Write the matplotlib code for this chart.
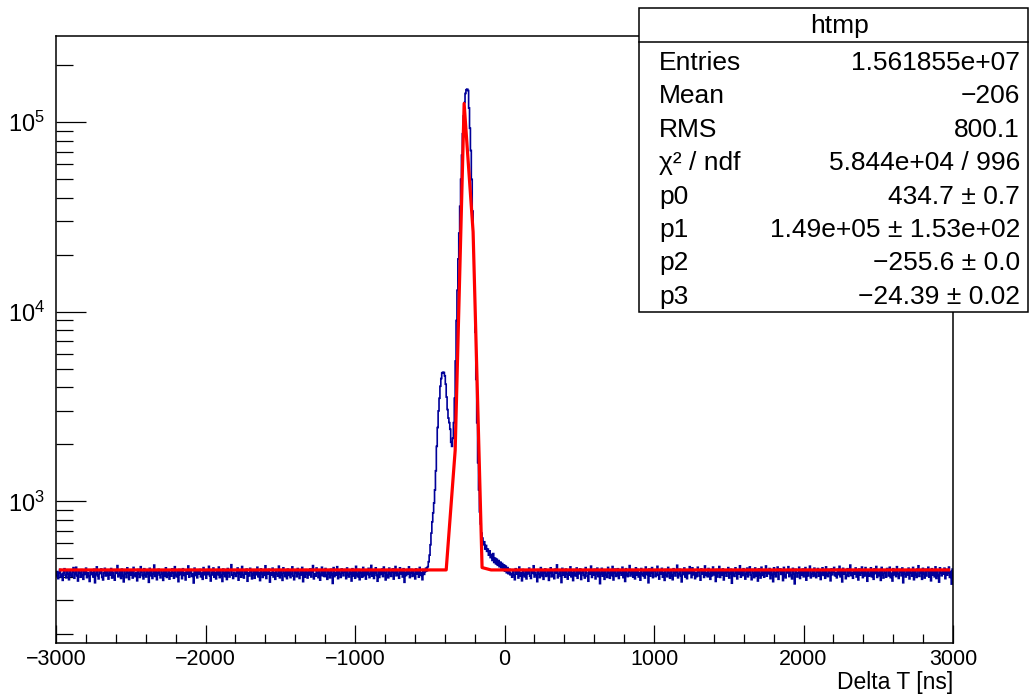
import numpy as np
import matplotlib
matplotlib.use("Agg")
import matplotlib.pyplot as plt
from matplotlib.patches import Rectangle
from matplotlib.lines import Line2D
from matplotlib.ticker import MultipleLocator, LogLocator, NullFormatter

plt.rcParams['font.family'] = ['Liberation Sans', 'DejaVu Sans']
plt.rcParams['mathtext.fontset'] = 'custom'
plt.rcParams['mathtext.rm'] = 'Liberation Sans'
plt.rcParams['mathtext.it'] = 'Liberation Sans:italic'

W, H = 1029, 696

# histogram htmp: 1000 bins of 6 ns from -3000 to 3000
X_MIN, X_MAX = -3000, 3000

# flat background, bins -3000 .. -510
left_base = [
    404, 426, 391, 418, 437, 399, 412, 383, 421, 441, 407, 395, 429, 414, 386, 433, 410, 401, 424, 447,
    393, 415, 449, 405, 380, 427, 419, 398, 436, 409, 388, 431, 412, 444, 396, 420, 403, 378, 432, 411,
    422, 399, 438, 372, 413, 451, 406, 390, 428, 416, 440, 397, 385, 419, 443, 404, 425, 410, 389, 430,
    409, 442, 394, 423, 401, 384, 435, 417, 458, 400, 411, 426, 392, 439, 405, 376, 429, 414, 396, 446,
    418, 387, 433, 408, 427, 394, 448, 412, 401, 421, 381, 437, 413, 397, 452, 424, 406, 390, 441, 410,
    399, 430, 417, 374, 443, 405, 425, 392, 414, 461, 402, 428, 386, 419, 438, 409, 395, 434, 415, 383,
    426, 404, 446, 397, 412, 432, 389, 422, 403, 440, 418, 393, 452, 410, 400, 428, 377, 437, 411, 424,
    391, 441, 407, 420, 385, 431, 413, 456, 398, 421, 436, 402, 415, 371, 444, 406, 425, 395, 433, 414,
    437, 400, 418, 388, 447, 410, 427, 393, 435, 412, 454, 405, 380, 424, 409, 445, 398, 421, 390, 431,
    411, 450, 396, 428, 406, 378, 439, 416, 401, 426, 387, 442, 419, 399, 434, 463, 408, 392, 423, 413,
    402, 422, 445, 384, 415, 431, 398, 453, 409, 394, 428, 414, 439, 379, 420, 404, 443, 425, 390, 412,
    433, 393, 426, 410, 449, 400, 421, 382, 440, 415, 397, 434, 407, 457, 392, 423, 413, 438, 375, 418,
    408, 444, 399, 422, 388, 436, 414, 403, 455, 395, 425, 411, 383, 446, 419, 401, 430, 391, 439, 407,
    428, 396, 414, 451, 404, 386, 435, 420, 400, 442, 413, 392, 427, 409, 448, 377, 422, 398, 436, 417,
    394, 432, 409, 440, 399, 424, 458, 390, 414, 403, 445, 419, 396, 433, 384, 410, 449, 405, 426, 401,
    442, 407, 388, 428, 417, 395, 438, 412, 369, 447, 401, 422, 408, 452, 391, 429, 414, 397, 440, 420,
    405, 436, 423, 391, 445, 410, 399, 431, 416, 380, 441, 404, 426, 393, 454, 412, 400, 437, 386, 427,
    418, 398, 448, 406, 425, 389, 434, 411, 443, 396, 414, 459, 403, 430, 392, 421, 446, 407, 379, 433,
    397, 429, 412, 439, 401, 450, 419, 385, 435, 408, 395, 444, 416, 402, 426, 440, 389, 420, 453, 405,
    432, 410, 393, 446, 415, 427, 399, 441, 374, 423, 406, 436, 413, 451, 396, 418, 437, 402, 429, 411,
    390, 440, 414, 431, 398, 448, 407, 421, 386, 437, 412, 426, 444, 430, 452,
]

# side peak and main peak, bins -510 .. -90
peak_counts = [
    480, 520, 590, 680, 780, 870, 980, 1150, 1450, 1950,
    2450, 3000, 3500, 4050, 4450, 4750, 4800, 4780, 4600, 4150,
    3550, 3050, 2750, 2600, 2400, 2050, 1950, 2150, 2600, 3500,
    5500, 9000, 13000, 19000, 26000, 36000, 50000, 67000, 87000, 108000,
    127000, 142000, 148500, 149500, 147000, 119000, 93000, 71000, 50000, 34000,
    22000, 13500, 7800, 4400, 2600, 1600, 1150, 880, 760, 680,
    640, 590, 612, 560, 585, 545, 560, 520, 548, 505,
]

# tail and flat background, bins -90 .. 3000
right_base = [
    525, 488, 530, 476, 502, 468, 495, 460, 487, 452, 478, 446, 470, 440, 462, 428, 455, 420, 447, 415,
    438, 410,
    416, 398, 433, 409, 386, 441, 413, 426, 394, 450, 404, 419, 381, 437, 411, 400, 429, 390, 424, 415,
    444, 403, 392, 431, 417, 457, 399, 423, 408, 377, 436, 414, 396, 447, 405, 427, 388, 420, 440, 402,
    411, 430, 383, 421, 446, 400, 427, 406, 391, 438, 418, 462, 395, 413, 429, 403, 373, 443, 409, 424,
    398, 439, 414, 389, 430, 408, 451, 400, 422, 382, 436, 412, 404, 445, 393, 426, 415, 440, 387, 419,
    434, 407, 394, 447, 421, 402, 379, 430, 413, 455, 397, 425, 409, 438, 390, 414, 444, 401, 428, 368,
    415, 443, 403, 424, 388, 434, 410, 397, 448, 418, 393, 431, 406, 453, 385, 421, 439, 402, 412, 441,
    392, 428, 418, 408, 449, 396, 433, 378, 441, 412, 401, 424, 458, 404, 417, 436, 398, 425, 390, 446,
    409, 437, 399, 421, 384, 442, 414, 405, 430, 394, 450, 411, 425, 372, 439, 403, 420, 447, 396, 429,
    433, 401, 413, 454, 407, 389, 428, 415, 443, 398, 422, 383, 437, 410, 400, 448, 418, 393, 431, 406,
    386, 441, 420, 404, 427, 460, 395, 414, 438, 405, 376, 431, 411, 445, 399, 423, 391, 435, 416, 452,
    422, 396, 446, 410, 432, 391, 419, 401, 449, 425, 404, 384, 440, 414, 430, 397, 456, 407, 421, 400,
    442, 414, 388, 431, 405, 450, 411, 424, 378, 437, 399, 418, 453, 397, 428, 408, 440, 385, 420, 434,
    403, 426, 447, 394, 417, 438, 370, 430, 410, 402, 446, 421, 390, 435, 413, 457, 398, 425, 406, 441,
    429, 389, 414, 444, 400, 423, 451, 409, 386, 437, 418, 396, 445, 404, 431, 380, 440, 412, 394, 449,
    407, 435, 398, 421, 456, 403, 427, 415, 442, 391, 433, 410, 377, 446, 416, 400, 424, 450, 388, 431,
    440, 412, 425, 382, 448, 406, 395, 434, 419, 452, 401, 430, 409, 390, 443, 414, 367, 438, 422, 399,
    418, 449, 392, 429, 408, 439, 400, 421, 447, 384, 426, 404, 436, 455, 395, 413, 431, 402, 444, 411,
    396, 424, 442, 403, 433, 387, 415, 446, 407, 428, 393, 451, 412, 401, 437, 418, 381, 440, 410, 427,
    448, 405, 419, 395, 438, 411, 454, 400, 425, 376, 443, 414, 432, 391, 408, 441, 402, 420, 461, 406,
    421, 393, 435, 413, 445, 399, 429, 385, 439, 408, 418, 450, 396, 426, 404, 447, 415, 379, 433, 403,
    410, 446, 400, 427, 388, 440, 416, 453, 397, 422, 406, 436, 383, 448, 411, 394, 431, 419, 398, 442,
    434, 404, 449, 396, 418, 380, 441, 410, 428, 401, 452, 414, 392, 437, 423, 405, 445, 372, 425, 413,
    399, 430, 409, 444, 390, 435, 418, 403, 448, 386, 427, 412, 397, 440, 457, 402, 420, 436, 388, 443,
    415, 394, 438, 404, 431, 449, 398, 424, 381, 441, 409, 434, 400, 451, 392, 428, 407, 375, 446, 419,
    405, 432, 413, 444, 391, 437, 408, 421, 450, 397, 426, 366, 439,
]

# fit parameters from the stats box: p0 + gaus(p1, p2, p3)
p0, p1, p2, p3 = 434.7, 1.49e5, -255.6, -24.39
NPX = 100

stat_names = ["Entries", "Mean", "RMS", "\u03c7\u00b2 / ndf", "p0", "p1", "p2", "p3"]
stat_values = ["1.561855e+07", "\u2212206", "800.1", "5.844e+04 / 996",
               "434.7 \u00b1 0.7", "1.49e+05 \u00b1 1.53e+02",
               "\u2212255.6 \u00b1 0.0", "\u221224.39 \u00b1 0.02"]


def px(x, y):
    return x / W, 1 - y / H


def main():
    counts = np.array(left_base + peak_counts + right_base, dtype=float)
    assert len(counts) == 1000, len(counts)
    edges = np.linspace(X_MIN, X_MAX, len(counts) + 1)

    dx = (X_MAX - X_MIN) / NPX
    x_fit = X_MIN + dx * (np.arange(NPX) + 0.5)
    y_fit = p0 + p1 * np.exp(-0.5 * ((x_fit - p2) / p3) ** 2)

    fig = plt.figure(figsize=(W / 100, H / 100), dpi=100)
    left, right, top, bottom = 56, 953, 35.5, 642.5
    ax = fig.add_axes([left / W, 1 - bottom / H, (right - left) / W, (bottom - top) / H])

    ax.stairs(counts, edges, baseline=None, color='#000099', lw=1.2, zorder=2)
    ax.plot(x_fit, y_fit, color='#ff0000', lw=2.3, zorder=3)

    ax.set_yscale('log')
    ax.set_xlim(X_MIN, X_MAX)
    ax.set_ylim(180, 2.87e5)

    ax.xaxis.set_major_locator(MultipleLocator(1000))
    ax.xaxis.set_minor_locator(MultipleLocator(200))
    ax.yaxis.set_major_locator(LogLocator(base=10))
    ax.yaxis.set_minor_locator(LogLocator(base=10, subs=np.arange(2, 10)))
    ax.yaxis.set_minor_formatter(NullFormatter())

    ax.tick_params(axis='both', which='both', direction='in', top=False, right=False, width=0.9)
    ax.tick_params(axis='x', which='major', length=13, pad=5, labelsize=15.5)
    ax.tick_params(axis='x', which='minor', length=6.5)
    ax.tick_params(axis='y', which='major', length=21.6, pad=8, labelsize=17)
    ax.tick_params(axis='y', which='minor', length=12.2)
    for s in ax.spines.values():
        s.set_linewidth(1.1)

    fx, fy = px(953, 689)
    fig.text(fx, fy, "Delta T [ns]", ha='right', va='baseline', fontsize=16.5)

    # stats box
    bx0, bx1, by0, by1 = 639, 1028, 8, 312
    x0, y1 = px(bx0, by1)
    x1, y0 = px(bx1, by0)
    fig.add_artist(Rectangle((x0, y1), x1 - x0, y0 - y1, transform=fig.transFigure,
                             facecolor='white', edgecolor='black', lw=1.1, zorder=10))
    sx0, sy = px(bx0, 42)
    sx1, _ = px(bx1, 42)
    fig.add_artist(Line2D([sx0, sx1], [sy, sy], transform=fig.transFigure,
                          color='black', lw=1.1, zorder=11))
    hx, hy = px(840, 33)
    fig.text(hx, hy, "htmp", ha='center', va='baseline', fontsize=19, zorder=12)
    for i, (name, val) in enumerate(zip(stat_names, stat_values)):
        yb = 70 + 33.4 * i
        lx, ly = px(659, yb)
        rx, _ = px(1020, yb)
        fig.text(lx, ly, name, ha='left', va='baseline', fontsize=19, zorder=12)
        fig.text(rx, ly, val, ha='right', va='baseline', fontsize=19, zorder=12)

    fig.savefig('out.png', dpi=100)


if __name__ == '__main__':
    main()
